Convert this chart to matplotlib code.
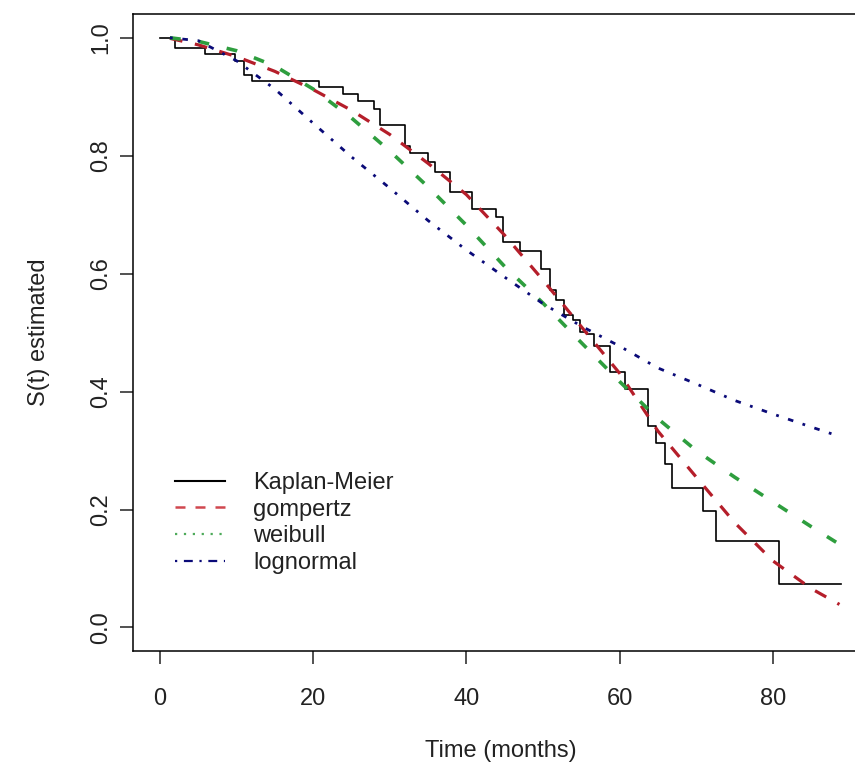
import matplotlib
matplotlib.use("Agg")
import matplotlib.pyplot as plt
from matplotlib.lines import Line2D

plt.rcParams['font.family'] = ['Liberation Sans', 'DejaVu Sans']

# Kaplan-Meier step estimate (time of each drop, survival after drop)
km_time = [0, 1.9, 5.9, 9.8, 11.0, 12.0, 20.8, 23.9, 25.9, 28.0, 28.7, 32.0,
           32.7, 35.0, 35.9, 37.8, 40.7, 43.9, 44.8, 47.0, 49.8, 50.9, 51.7,
           52.8, 53.9, 54.8, 55.7, 56.7, 58.8, 60.7, 63.7, 64.8, 65.9, 66.9,
           70.9, 72.6, 80.8, 88.9]
km_surv = [1.0, 0.982, 0.972, 0.960, 0.937, 0.926, 0.916, 0.904, 0.892, 0.880,
           0.852, 0.816, 0.804, 0.789, 0.772, 0.738, 0.710, 0.696, 0.654, 0.639,
           0.608, 0.572, 0.555, 0.529, 0.521, 0.501, 0.498, 0.478, 0.433, 0.405,
           0.342, 0.312, 0.278, 0.237, 0.198, 0.147, 0.073, 0.073]

# fitted parametric curves
fit_time = [1.3, 5, 10, 15, 20, 25, 30, 35, 40, 45, 50, 55, 60, 65, 70, 75,
            80, 85, 88.7]
gompertz = [0.999, 0.988, 0.968, 0.943, 0.912, 0.877, 0.836, 0.787, 0.734,
            0.665, 0.589, 0.510, 0.431, 0.333, 0.255, 0.178, 0.113, 0.066,
            0.039]
weibull = [1.0, 0.994, 0.978, 0.952, 0.913, 0.864, 0.808, 0.747, 0.682,
           0.612, 0.550, 0.483, 0.417, 0.354, 0.300, 0.255, 0.213, 0.171,
           0.141]
lognormal = [1.0, 0.995, 0.961, 0.913, 0.855, 0.798, 0.745, 0.690, 0.640,
             0.594, 0.549, 0.511, 0.477, 0.440, 0.413, 0.385, 0.362, 0.340,
             0.324]

labels = ['Kaplan-Meier', 'gompertz', 'weibull', 'lognormal']
colors = ['black', '#B51E2A', '#2E9E3E', '#0A0A78']

fig = plt.figure(figsize=(8.55, 7.66), dpi=100)
ax = fig.add_axes([0.1552, 0.1501, 0.8612, 0.8314])

ax.step(km_time, km_surv, where='post', color=colors[0], lw=1.2)
ax.plot(fit_time, gompertz, color=colors[1], lw=2.3, linestyle=(0, (4, 4)))
ax.plot(fit_time, weibull, color=colors[2], lw=2.6, linestyle=(0, (3, 5)))
ax.plot(fit_time, lognormal, color=colors[3], lw=2.0,
        linestyle=(0, (1, 3.5, 2, 3.5)))

ax.set_xlim(-3.56, 92.56)
ax.set_ylim(-0.04, 1.04)
ax.set_xticks([0, 20, 40, 60, 80])
ax.set_yticks([0.0, 0.2, 0.4, 0.6, 0.8, 1.0])
ax.set_yticklabels(['0.0', '0.2', '0.4', '0.6', '0.8', '1.0'])

for s in ax.spines.values():
    s.set_linewidth(1.1)
ax.tick_params(axis='both', length=9.4, width=1.1, labelsize=17,
               colors='#222222')
ax.tick_params(axis='x', pad=17)
ax.tick_params(axis='y', pad=5.5)
plt.setp(ax.get_yticklabels(), rotation=90, va='center')

ax.set_xlabel('Time (months)', fontsize=17, color='#222222', va='center')
ax.set_ylabel('S(t) estimated', fontsize=17, color='#222222', va='center')
ax.xaxis.set_label_coords(0.5, -0.157)
ax.yaxis.set_label_coords(-0.127, 0.5)

handles = [
    Line2D([], [], color=colors[0], lw=1.5),
    Line2D([], [], color='#D0474F', lw=1.8, linestyle=(0, (4, 4))),
    Line2D([], [], color='#4DAA5A', lw=1.6, linestyle=(0, (1, 3))),
    Line2D([], [], color=colors[3], lw=1.6, linestyle=(0, (1, 3, 4, 3))),
]
leg = ax.legend(handles, labels, loc='upper left', frameon=False,
                bbox_to_anchor=(175 / 855, 1 - 472 / 766),
                bbox_transform=fig.transFigure, borderpad=0, borderaxespad=0,
                fontsize=17, handlelength=2.1, handletextpad=1.2,
                labelspacing=0.2)
for t in leg.get_texts():
    t.set_color('#222222')

fig.savefig('out.png', dpi=100)
